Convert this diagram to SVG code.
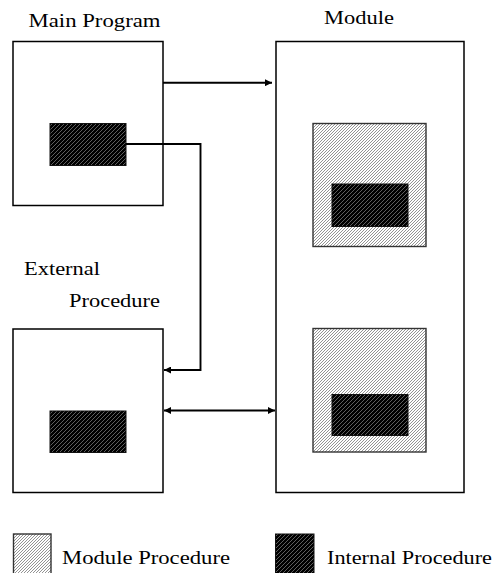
<svg xmlns="http://www.w3.org/2000/svg" width="499" height="573" viewBox="0 0 499 573">
<style>
text{font-family:"Liberation Serif","Times New Roman",serif;font-size:19.5px;fill:#000}
.box{fill:#fff;stroke:#000;stroke-width:1.5}
.mp{fill:url(#hatchLight);stroke:#333;stroke-width:1.4}
.ip{fill:url(#hatchDark);stroke:#111;stroke-width:1}
.conn{fill:none;stroke:#000;stroke-width:1.9}
</style>
<defs>
<pattern id="hatchLight" patternUnits="userSpaceOnUse" width="3" height="3">
<rect width="3" height="3" fill="#fff"/>
<path d="M-1,1 L1,-1 M0,3 L3,0 M2,4 L4,2" stroke="#888" stroke-width="0.9"/>
</pattern>
<pattern id="hatchDark" patternUnits="userSpaceOnUse" width="4" height="4">
<rect width="4" height="4" fill="#000"/>
<path d="M-1,1 L1,-1 M0,4 L4,0 M3,5 L5,3" stroke="#777" stroke-width="0.8"/>
</pattern>
<marker id="arr" viewBox="0 0 10 10" refX="10" refY="5" markerWidth="8" markerHeight="7" markerUnits="userSpaceOnUse" orient="auto-start-reverse">
<path d="M0,0 L10,5 L0,10 z" fill="#000"/>
</marker>
</defs>

<g id="main-program">
<text x="28.5" y="27.3" textLength="132" lengthAdjust="spacingAndGlyphs">Main Program</text>
<rect class="box" x="13" y="41.5" width="150" height="164"/>
<rect class="ip" x="50" y="123.5" width="76" height="42"/>
</g>

<g id="module">
<text x="324" y="24" textLength="70" lengthAdjust="spacingAndGlyphs">Module</text>
<rect class="box" x="276" y="41.5" width="188" height="451"/>
<rect class="mp" x="313" y="123.5" width="113" height="123"/>
<rect class="ip" x="332" y="184" width="76" height="42.5"/>
<rect class="mp" x="313" y="328.5" width="113" height="123.5"/>
<rect class="ip" x="332" y="394.5" width="76" height="41"/>
</g>

<g id="external-procedure">
<text x="24" y="275" textLength="76" lengthAdjust="spacingAndGlyphs">External</text>
<text x="69" y="306.5" textLength="91" lengthAdjust="spacingAndGlyphs">Procedure</text>
<rect class="box" x="13" y="329" width="150" height="163.5"/>
<rect class="ip" x="50" y="411" width="76" height="41.5"/>
</g>

<g id="connectors">
<path class="conn" d="M163,82.7 H272" marker-end="url(#arr)"/>
<path class="conn" d="M126,144 H200.5 V370 H164" marker-end="url(#arr)"/>
<path class="conn" d="M164,410.5 H275" marker-start="url(#arr)" marker-end="url(#arr)"/>
</g>

<g id="legend">
<rect class="mp" x="13.5" y="534" width="37.5" height="45"/>
<text x="62" y="563.5" textLength="168" lengthAdjust="spacingAndGlyphs">Module Procedure</text>
<rect class="ip" x="275.5" y="534" width="38.5" height="45"/>
<text x="327" y="563.5" textLength="165" lengthAdjust="spacingAndGlyphs">Internal Procedure</text>
</g>
</svg>
